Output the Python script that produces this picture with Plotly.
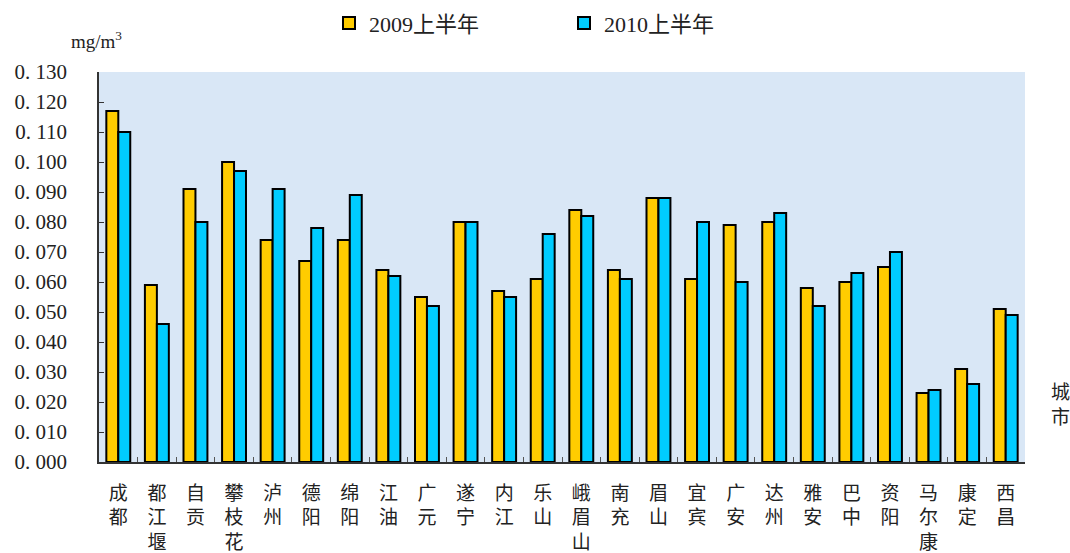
import plotly.graph_objects as go

cities = ["成都", "都江堰", "自贡", "攀枝花", "泸州", "德阳", "绵阳", "江油", "广元", "遂宁",
          "内江", "乐山", "峨眉山", "南充", "眉山", "宜宾", "广安", "达州", "雅安", "巴中",
          "资阳", "马尔康", "康定", "西昌"]
y2009 = [0.117, 0.059, 0.091, 0.100, 0.074, 0.067, 0.074, 0.064, 0.055, 0.080,
         0.057, 0.061, 0.084, 0.064, 0.088, 0.061, 0.079, 0.080, 0.058, 0.060,
         0.065, 0.023, 0.031, 0.051]
y2010 = [0.110, 0.046, 0.080, 0.097, 0.091, 0.078, 0.089, 0.062, 0.052, 0.080,
         0.055, 0.076, 0.082, 0.061, 0.088, 0.080, 0.060, 0.083, 0.052, 0.063,
         0.070, 0.024, 0.026, 0.049]
tick_vals = [i / 1000 for i in range(0, 131, 10)]
tick_text = ["0. %03d" % int(round(v * 1000)) for v in tick_vals]

font = "Liberation Serif, Noto Sans CJK SC"
# vertical labels: one character per line
labels = ["<br>".join(c) for c in cities]

fig = go.Figure()
fig.add_bar(x=labels, y=y2009, name="2009上半年", marker_color="#FFCC00",
            marker_line=dict(color="black", width=2))
fig.add_bar(x=labels, y=y2010, name="2010上半年", marker_color="#00CCFF",
            marker_line=dict(color="black", width=2))

fig.update_layout(
    width=1070, height=553,
    margin=dict(l=99, r=45, t=72, b=91, autoexpand=False),
    paper_bgcolor="white", plot_bgcolor="#d9e7f6",
    barmode="group", bargap=0.38, bargroupgap=0,
    font=dict(family=font, size=19, color="#222"),
    showlegend=True,
    legend=dict(orientation="h", x=0.2484, xanchor="left",
                yref="container", y=0.958, yanchor="middle",
                font=dict(size=22), entrywidth=190, itemwidth=30),
    xaxis=dict(showline=True, linecolor="#333", linewidth=1.5, ticks="inside",
               tickson="boundaries", ticklen=5, tickcolor="#555",
               tickfont=dict(size=19), showgrid=False, automargin=False,
               ticklabelstandoff=13),
    yaxis=dict(range=[0, 0.13], autorange=False, tickvals=tick_vals, ticktext=tick_text,
               showline=True, linecolor="#333", linewidth=1.5, ticks="inside",
               ticklen=5, tickcolor="#333", showgrid=False, zeroline=False,
               tickfont=dict(size=21), automargin=False, ticklabelstandoff=26),
    annotations=[
        dict(text="mg/m<sup>3</sup>", xref="paper", yref="paper", x=0, y=1.0,
             xanchor="center", yanchor="bottom", yshift=18, xshift=-3,
             showarrow=False, font=dict(size=19)),
        dict(text="城<br>市", xref="paper", yref="paper", x=1.038, y=0.146,
             xanchor="center", yanchor="middle", showarrow=False, font=dict(size=19)),
    ],
)
# drop the default page margin so the 1070x553 figure fills the window exactly
fig.write_html("out.html", config={"displayModeBar": False},
               post_script="document.body.style.margin='0';document.body.style.overflow='hidden';")
